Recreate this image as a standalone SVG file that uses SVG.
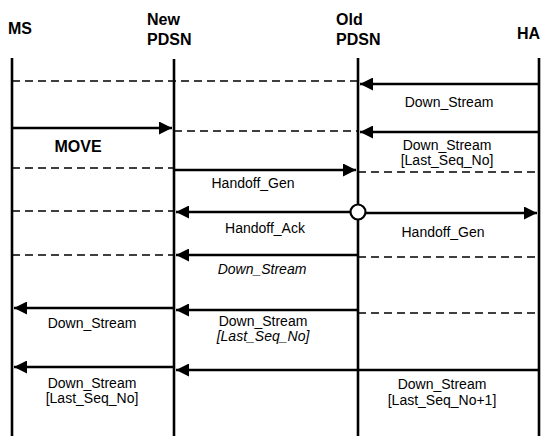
<svg xmlns="http://www.w3.org/2000/svg" width="544" height="436" viewBox="0 0 544 436">
<style>
.hdr{font-family:"Liberation Sans",Arial,sans-serif;font-size:16px;font-weight:bold;fill:#000}
.lbl{font-family:"Liberation Sans",Arial,sans-serif;font-size:14px;fill:#000;text-anchor:middle}
.it{font-style:italic}
.life{stroke:#000;stroke-width:2.6;fill:none}
.msg{stroke:#000;stroke-width:2.6;fill:none}
.dash{stroke:#000;stroke-width:1.6;stroke-dasharray:8 5;fill:none}
</style>
<defs>
<marker id="ah" viewBox="0 0 10 10" refX="10" refY="5" markerWidth="5.6" markerHeight="5" markerUnits="strokeWidth" orient="auto">
<path d="M0,0 L10,5 L0,10 Z" fill="#000"/>
</marker>
</defs>
<rect width="544" height="436" fill="#fff"/>
<g id="ms">
<text class="hdr" x="8" y="34">MS</text>
<line class="life" x1="12" y1="58" x2="12" y2="436"/>
</g>
<g id="new_pdsn">
<text class="hdr" x="147" y="25">New</text>
<text class="hdr" x="147" y="45">PDSN</text>
<line class="life" x1="174" y1="59" x2="174" y2="436"/>
</g>
<g id="old_pdsn">
<text class="hdr" x="336" y="25">Old</text>
<text class="hdr" x="336" y="45">PDSN</text>
<line class="life" x1="358" y1="58" x2="358" y2="436"/>
</g>
<g id="ha">
<text class="hdr" x="517" y="39">HA</text>
<line class="life" x1="539" y1="58" x2="539" y2="436"/>
</g>
<g id="connectors">
<!-- row 1 -->
<line class="dash" x1="12" y1="81" x2="358" y2="81"/>
<line class="msg" x1="539" y1="84" x2="360" y2="84" marker-end="url(#ah)"/>
<!-- row 2 -->
<line class="msg" x1="12" y1="128" x2="172" y2="128" marker-end="url(#ah)"/>
<line class="dash" x1="174" y1="131" x2="358" y2="131"/>
<line class="msg" x1="539" y1="132" x2="360" y2="132" marker-end="url(#ah)"/>
<!-- row 3 -->
<line class="dash" x1="12" y1="168" x2="174" y2="168"/>
<line class="msg" x1="174" y1="170" x2="356" y2="170" marker-end="url(#ah)"/>
<line class="dash" x1="358" y1="172" x2="539" y2="172"/>
<!-- row 4 -->
<line class="dash" x1="12" y1="211" x2="174" y2="211"/>
<line class="msg" x1="351" y1="212" x2="176" y2="212" marker-end="url(#ah)"/>
<line class="msg" x1="365" y1="213" x2="537" y2="213" marker-end="url(#ah)"/>
<circle cx="358" cy="212" r="7.5" fill="#fff" stroke="#000" stroke-width="2.2"/>
<!-- row 5 -->
<line class="dash" x1="12" y1="255" x2="174" y2="255"/>
<line class="msg" x1="358" y1="255" x2="176" y2="255" marker-end="url(#ah)"/>
<line class="dash" x1="358" y1="257" x2="539" y2="257"/>
<!-- row 6 -->
<line class="msg" x1="174" y1="308" x2="14" y2="308" marker-end="url(#ah)"/>
<line class="msg" x1="358" y1="310" x2="176" y2="310" marker-end="url(#ah)"/>
<line class="dash" x1="358" y1="313" x2="539" y2="313"/>
<!-- row 7 -->
<line class="msg" x1="174" y1="367" x2="14" y2="367" marker-end="url(#ah)"/>
<line class="msg" x1="539" y1="370" x2="176" y2="370" marker-end="url(#ah)"/>
</g>
<g id="labels">
<text class="lbl" x="449" y="107">Down_Stream</text>
<text class="hdr" x="78" y="152" text-anchor="middle">MOVE</text>
<text class="lbl" x="447" y="150">Down_Stream</text>
<text class="lbl" x="447" y="165">[Last_Seq_No]</text>
<text class="lbl" x="253" y="188">Handoff_Gen</text>
<text class="lbl" x="265" y="233">Handoff_Ack</text>
<text class="lbl" x="443" y="237">Handoff_Gen</text>
<text class="lbl it" x="262" y="274">Down_Stream</text>
<text class="lbl" x="92" y="328">Down_Stream</text>
<text class="lbl" x="263" y="326">Down_Stream</text>
<text class="lbl it" x="263" y="341">[Last_Seq_No]</text>
<text class="lbl" x="92" y="388">Down_Stream</text>
<text class="lbl" x="92" y="403">[Last_Seq_No]</text>
<text class="lbl" x="442" y="389">Down_Stream</text>
<text class="lbl" x="442" y="405">[Last_Seq_No+1]</text>
</g>
</svg>
